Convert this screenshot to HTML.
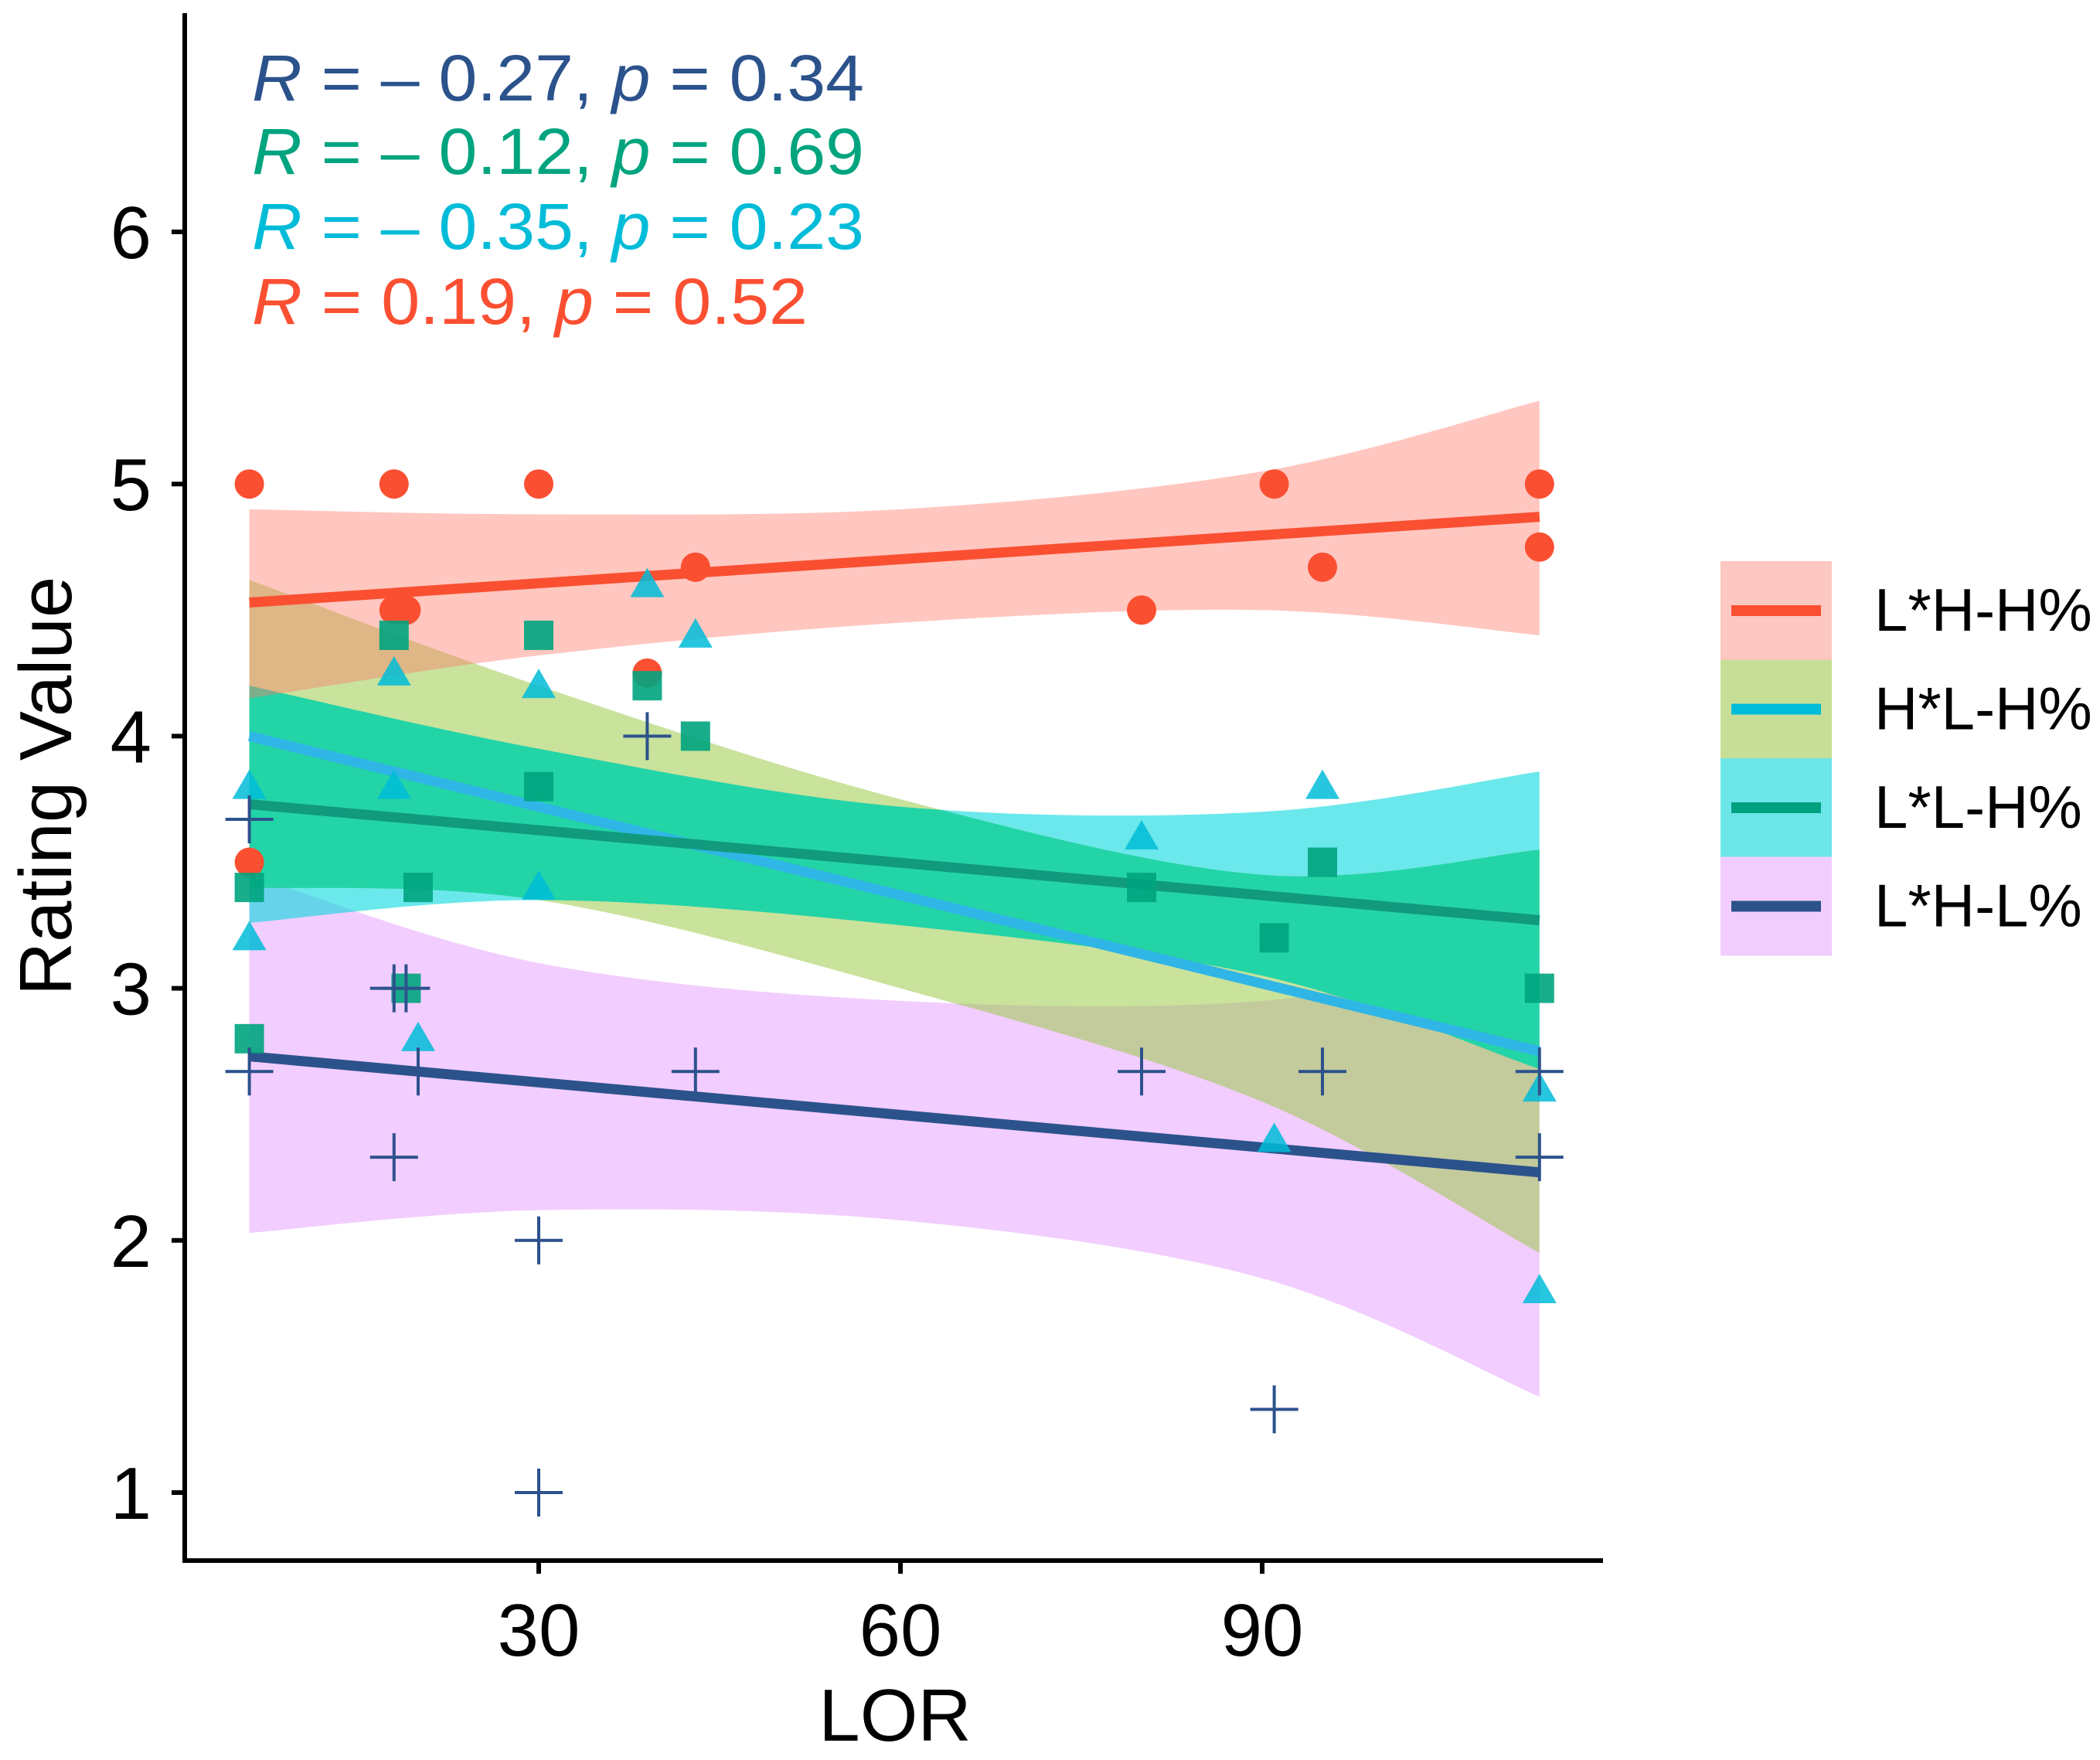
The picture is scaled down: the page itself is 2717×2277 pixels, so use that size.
<!DOCTYPE html>
<html><head><meta charset="utf-8"><style>
body{margin:0;background:#fff}
svg{display:block;font-family:"Liberation Sans",Arial,sans-serif}
</style></head><body>
<svg id="chart" width="2717" height="2277" viewBox="0 0 2717 2277">
<defs><clipPath id="cyanClip"><path id="cyanClipPath" d=""/></clipPath></defs>
<g id="bands"></g>
<g id="lines"></g>
<g id="points"></g>
<g id="axes"></g>
<g font-size="84">
<text x="326" y="130" fill="#2c528c" textLength="792" lengthAdjust="spacingAndGlyphs"><tspan font-style="italic">R</tspan> = – 0.27, <tspan font-style="italic">p</tspan> = 0.34</text>
<text x="326" y="225" fill="#00a47e" textLength="792" lengthAdjust="spacingAndGlyphs"><tspan font-style="italic">R</tspan> = – 0.12, <tspan font-style="italic">p</tspan> = 0.69</text>
<text x="326" y="322" fill="#00bcd8" textLength="792" lengthAdjust="spacingAndGlyphs"><tspan font-style="italic">R</tspan> = – 0.35, <tspan font-style="italic">p</tspan> = 0.23</text>
<text x="326" y="419" fill="#fb4f32" textLength="719" lengthAdjust="spacingAndGlyphs"><tspan font-style="italic">R</tspan> = 0.19, <tspan font-style="italic">p</tspan> = 0.52</text>
</g>
<g id="legend"></g>
</svg>
<script>
const xTicks=[30,60,90];
const yTicks=[1,2,3,4,5,6];
const seriesNames=["L*H-H%","H*L-H%","L*L-H%","L*H-L%"];
const bandX=[6,30,60,90,113];
const lhhX=[6,18,30,91,113,113,95,80,43,39,18,19,6];
const lhhY=[5,5,5,5,5,4.75,4.67,4.5,4.67,4.25,4.5,4.5,3.5];
const hlhX=[6,6,18,18,20,30,30,39,43,80,91,95,113,113];
const hlhY=[3.8,3.2,3.8,4.25,2.8,4.2,3.4,4.6,4.4,3.6,2.4,3.8,2.6,1.8];
const llhX=[6,6,18,19,20,30,30,39,43,80,91,95,113];
const llhY=[3.4,2.8,4.4,3.0,3.4,4.4,3.8,4.2,4.0,3.4,3.2,3.5,3.0];
const lhlX=[6,6,18,19,20,18,30,30,39,43,80,91,95,113,113];
const lhlY=[3.67,2.67,3.0,3.0,2.67,2.33,2.0,1.0,4.0,2.67,2.67,1.33,2.67,2.67,2.33];
const fitLhh=[4.53,4.87], fitHlh=[4.0,2.75], fitLlh=[3.73,3.27], fitLhl=[2.73,2.27];
const lhhUp=[4.9,4.88,4.9,5.05,5.33], lhhLo=[4.15,4.32,4.45,4.5,4.4];
const hlhUp=[4.62,4.2,3.75,3.45,3.55], hlhLo=[3.4,3.35,3.0,2.55,1.95];
const llhUp=[4.2,3.95,3.72,3.7,3.86], llhLo=[3.26,3.35,3.25,3.05,2.68];
const lhlUp=[3.45,3.1,2.95,2.95,3.15], lhlLo=[2.03,2.12,2.08,1.85,1.38];

const NS="http://www.w3.org/2000/svg";
const xs=v=>229+15.6*v, ys=v=>300+(6-v)*326.2;
function mk(tag,attrs,parent){const e=document.createElementNS(NS,tag);for(const k in attrs)e.setAttribute(k,attrs[k]);parent.appendChild(e);return e;}
const bands=document.getElementById('bands'),lines=document.getElementById('lines'),points=document.getElementById('points'),axes=document.getElementById('axes'),legend=document.getElementById('legend');

function smooth(pts){let d="M"+pts[0][0]+","+pts[0][1];for(let i=1;i<pts.length;i++){const p0=pts[Math.max(i-2,0)],p1=pts[i-1],p2=pts[i],p3=pts[Math.min(i+1,pts.length-1)];d+=" C"+(p1[0]+(p2[0]-p0[0])/6)+","+(p1[1]+(p2[1]-p0[1])/6)+" "+(p2[0]-(p3[0]-p1[0])/6)+","+(p2[1]-(p3[1]-p1[1])/6)+" "+p2[0]+","+p2[1];}return d;}
function bandPath(up,lo){
  const u=bandX.map((x,i)=>[xs(x),ys(up[i])]);
  const l=bandX.map((x,i)=>[xs(x),ys(lo[i])]).reverse();
  return smooth(u)+" L"+smooth(l).slice(1)+" Z";
}
function band(up,lo,color,op,name,clip){
  const attrs={d:bandPath(up,lo),fill:color,'fill-opacity':op};
  if(clip)attrs['clip-path']=clip;
  const p=mk('path',attrs,bands);
  
  
}
document.getElementById('cyanClipPath').setAttribute('d',bandPath(llhUp,llhLo));
band(lhlUp,lhlLo,"#e59cff",0.5,"band-lhl");
band(llhUp,llhLo,"#00d8dc",0.58,"band-llh");
band(hlhUp,hlhLo,"#9ccb4a",0.55,"band-hlh");
band(hlhUp,hlhLo,"#23d4a7",1,"band-overlap","url(#cyanClip)");
band(lhhUp,lhhLo,"#ff7a6a",0.42,"band-lhh");

function fit(f,color,name){
  const l=mk('line',{x1:xs(6),y1:ys(f[0]),x2:xs(113),y2:ys(f[1]),stroke:color,'stroke-width':13},lines);
  
  
}
fit(fitLhh,"#fb4f32","fit-line-lhh");
fit(fitHlh,"#2fb6e6","fit-line-hlh");
fit(fitLlh,"#119a7e","fit-line-llh");
fit(fitLhl,"#2c528c","fit-line-lhl");

lhhX.forEach((x,i)=>{const c=mk('circle',{cx:xs(x),cy:ys(lhhY[i]),r:19,fill:"#fb4f32"},points);

});
hlhX.forEach((x,i)=>{const cx=xs(x),cy=ys(hlhY[i]);const t=mk('polygon',{points:(cx)+","+(cy-22)+" "+(cx-22)+","+(cy+16)+" "+(cx+22)+","+(cy+16),fill:"#00bcd8",'fill-opacity':0.85},points);

});
llhX.forEach((x,i)=>{const r=mk('rect',{x:xs(x)-19,y:ys(llhY[i])-19,width:38,height:38,fill:"#00a47e",'fill-opacity':0.9},points);

});
lhlX.forEach((x,i)=>{const cx=xs(x),cy=ys(lhlY[i]);const p=mk('path',{d:"M"+(cx-31)+","+cy+"H"+(cx+31)+"M"+cx+","+(cy-31)+"V"+(cy+31),stroke:"#2c528c",'stroke-width':4,fill:"none"},points);

});

const ya=mk('line',{x1:239,y1:17,x2:239,y2:2022,stroke:"#000",'stroke-width':6},axes);


const xa=mk('line',{x1:236,y1:2019,x2:2074,y2:2019,stroke:"#000",'stroke-width':6},axes);


yTicks.forEach(v=>{mk('line',{x1:222,y1:ys(v),x2:239,y2:ys(v),stroke:"#000",'stroke-width':6},axes);
const t=mk('text',{x:196,y:ys(v)+34,'text-anchor':'end','font-size':96},axes);t.textContent=v;

});
xTicks.forEach(v=>{mk('line',{x1:xs(v),y1:2019,x2:xs(v),y2:2036,stroke:"#000",'stroke-width':6},axes);
const t=mk('text',{x:xs(v),y:2142,'text-anchor':'middle','font-size':96},axes);t.textContent=v;

});
const xt=mk('text',{x:1158,y:2252,'text-anchor':'middle','font-size':96},axes);xt.textContent="LOR";


const yt=mk('text',{x:0,y:0,'text-anchor':'middle','font-size':96,transform:"translate(92,1017) rotate(-90)"},axes);yt.textContent="Rating Value";



const keyFill=["#fdc7c2","#c7de96","#6ce6e8","#f1cdfd"];
const keyLine=["#fb4f32","#00bcd8","#00a080","#2c528c"];
seriesNames.forEach((n,i)=>{const y0=726+127.5*i;
mk('rect',{x:2226,y:y0,width:144,height:128,fill:keyFill[i]},legend);
mk('line',{x1:2240,y1:y0+64,x2:2356,y2:y0+64,stroke:keyLine[i],'stroke-width':14},legend);
const t=mk('text',{x:2425,y:y0+90,'font-size':78},legend);t.textContent=n;

});
</script>
</body></html>
